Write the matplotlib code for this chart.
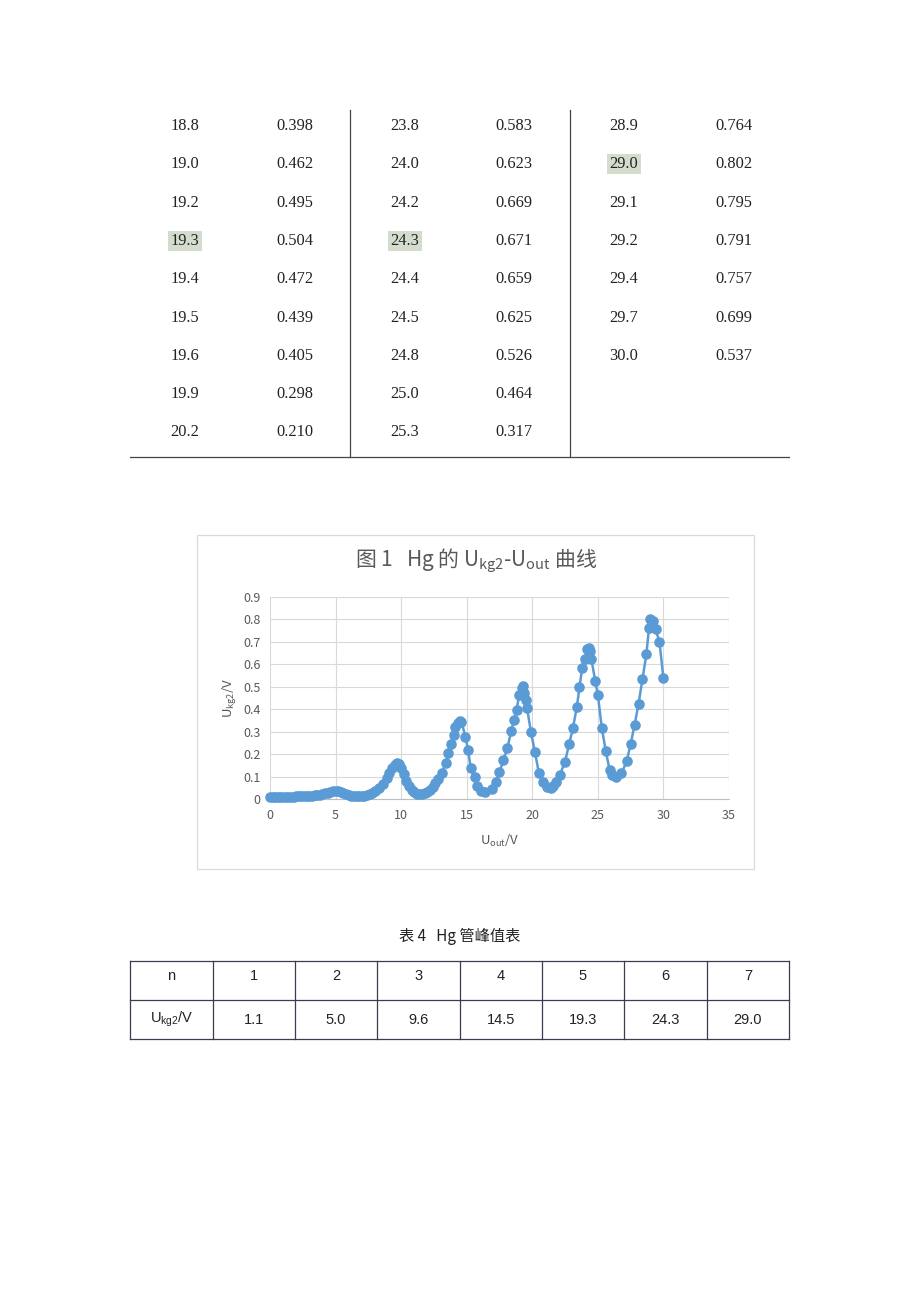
"""Rebuild the Hg Franck-Hertz page: data table, U_kg2-U_out curve and peak table."""

import matplotlib
matplotlib.use("Agg")
import matplotlib.pyplot as plt
from matplotlib.patches import Rectangle

plt.rcParams["font.family"] = ["Noto Sans CJK SC", "DejaVu Sans"]
plt.rcParams["mathtext.default"] = "regular"

# ---- top data table (three column pairs) ----
U_COL1 = ["18.8", "19.0", "19.2", "19.3", "19.4", "19.5", "19.6", "19.9", "20.2"]
V_COL1 = ["0.398", "0.462", "0.495", "0.504", "0.472", "0.439", "0.405", "0.298", "0.210"]
U_COL2 = ["23.8", "24.0", "24.2", "24.3", "24.4", "24.5", "24.8", "25.0", "25.3"]
V_COL2 = ["0.583", "0.623", "0.669", "0.671", "0.659", "0.625", "0.526", "0.464", "0.317"]
U_COL3 = ["28.9", "29.0", "29.1", "29.2", "29.4", "29.7", "30.0"]
V_COL3 = ["0.764", "0.802", "0.795", "0.791", "0.757", "0.699", "0.537"]
HIGHLIGHT = ["19.3", "24.3", "29.0"]

# ---- curve data ----
U_OUT = [0.0, 0.2, 0.4, 0.6, 0.8, 1.0, 1.2, 1.4, 1.6, 1.8, 2.0, 2.2, 2.4, 2.6, 2.8,
         3.0, 3.2, 3.4, 3.6, 3.8, 4.0, 4.2, 4.4, 4.6, 4.8, 5.0, 5.2, 5.4, 5.6, 5.8,
         6.0, 6.2, 6.4, 6.6, 6.8, 7.0, 7.2, 7.4, 7.6, 7.8, 8.0, 8.3, 8.6, 8.9, 9.1,
         9.3, 9.5, 9.6, 9.7, 9.8, 10.0, 10.2, 10.4, 10.6, 10.8, 11.0, 11.2, 11.4,
         11.6, 11.8, 12.0, 12.2, 12.4, 12.6, 12.8, 13.1, 13.4, 13.6, 13.8, 14.0,
         14.1, 14.3, 14.5, 14.6, 14.9, 15.1, 15.3, 15.6, 15.8, 16.1, 16.4, 16.9,
         17.2, 17.5, 17.8, 18.1, 18.4, 18.6, 18.8, 19.0, 19.2, 19.3, 19.4, 19.5,
         19.6, 19.9, 20.2, 20.5, 20.8, 21.1, 21.4, 21.6, 21.8, 22.1, 22.5, 22.8,
         23.1, 23.4, 23.6, 23.8, 24.0, 24.2, 24.3, 24.4, 24.5, 24.8, 25.0, 25.3,
         25.6, 25.9, 26.1, 26.4, 26.8, 27.2, 27.5, 27.8, 28.1, 28.4, 28.7, 28.9,
         29.0, 29.1, 29.2, 29.4, 29.7, 30.0]
U_KG2 = [0.010, 0.010, 0.010, 0.010, 0.010, 0.011, 0.011, 0.011, 0.011, 0.011, 0.012,
         0.012, 0.012, 0.013, 0.013, 0.014, 0.015, 0.016, 0.018, 0.020, 0.022, 0.025,
         0.028, 0.032, 0.035, 0.037, 0.036, 0.032, 0.027, 0.022, 0.018, 0.015, 0.013,
         0.012, 0.012, 0.013, 0.015, 0.018, 0.022, 0.027, 0.034, 0.048, 0.068, 0.095,
         0.118, 0.138, 0.152, 0.158, 0.160, 0.157, 0.140, 0.110, 0.080, 0.058, 0.042,
         0.030, 0.024, 0.021, 0.022, 0.026, 0.033, 0.042, 0.055, 0.070, 0.090, 0.117,
         0.160, 0.205, 0.245, 0.285, 0.320, 0.340, 0.348, 0.343, 0.278, 0.220, 0.140,
         0.098, 0.058, 0.035, 0.030, 0.045, 0.076, 0.120, 0.174, 0.226, 0.305, 0.350,
         0.398, 0.462, 0.495, 0.504, 0.472, 0.439, 0.405, 0.298, 0.210, 0.117, 0.075,
         0.052, 0.050, 0.058, 0.075, 0.107, 0.166, 0.243, 0.315, 0.412, 0.498, 0.583,
         0.623, 0.669, 0.671, 0.659, 0.625, 0.526, 0.464, 0.317, 0.215, 0.128, 0.108,
         0.098, 0.115, 0.168, 0.245, 0.330, 0.423, 0.533, 0.645, 0.764, 0.802, 0.795,
         0.791, 0.757, 0.699, 0.537]

# ---- peak table ----
PEAK_N = ["1", "2", "3", "4", "5", "6", "7"]
PEAK_U = ["1.1", "5.0", "9.6", "14.5", "19.3", "24.3", "29.0"]

W, H = 920, 1302
fig = plt.figure(figsize=(W / 100, H / 100), dpi=100)
fig.patch.set_facecolor("white")

# page overlay in pixel coordinates
page = fig.add_axes([0, 0, 1, 1])
page.set_xlim(0, W)
page.set_ylim(H, 0)
page.axis("off")

# top table
serif = ["Liberation Serif", "DejaVu Serif"]
row_y = [126 + i * 38.3 for i in range(9)]
for cx_u, cx_v, us, vs in [(185, 295, U_COL1, V_COL1),
                           (405, 514, U_COL2, V_COL2),
                           (624, 734, U_COL3, V_COL3)]:
    for i, (u, v) in enumerate(zip(us, vs)):
        y = row_y[i]
        if u in HIGHLIGHT:
            page.add_patch(Rectangle((cx_u - 17, y - 10), 34, 20,
                                     facecolor="#d3dccd", edgecolor="none", zorder=1))
        page.text(cx_u, y, u, ha="center", va="center", fontsize=11.8,
                  family=serif, color="#222222", zorder=2)
        page.text(cx_v, y, v, ha="center", va="center", fontsize=11.8,
                  family=serif, color="#222222", zorder=2)
page.plot([350, 350], [110, 457], color="#444444", lw=0.9)
page.plot([570, 570], [110, 457], color="#444444", lw=0.9)
page.plot([130, 789], [457, 457], color="#444444", lw=0.9)

# chart frame + title
page.add_patch(Rectangle((197, 535), 557, 334, facecolor="none",
                         edgecolor="#d9d9d9", lw=0.9))
page.text(476, 561, "图 1   Hg 的 $U_{kg2}$-$U_{out}$ 曲线", ha="center", va="center",
          fontsize=15, color="#595959")

# chart axes
x0, x1, y0, y1 = 270, 729, 597, 799
ax = fig.add_axes([x0 / W, 1 - y1 / H, (x1 - x0) / W, (y1 - y0) / H])
ax.plot(U_OUT, U_KG2, color="#5b9bd5", lw=1.8, marker="o", markersize=6.6,
        markerfacecolor="#5b9bd5", markeredgecolor="#5b9bd5", clip_on=False, zorder=3)
ax.set_xlim(0, 35)
ax.set_ylim(0, 0.9)
ax.set_xticks(range(0, 36, 5))
ax.set_yticks([i / 10 for i in range(10)])
ax.set_yticklabels(["0"] + [f"{i / 10:.1f}" for i in range(1, 10)])
ax.grid(True, color="#d9d9d9", lw=0.8)
ax.set_axisbelow(True)
for side in ["top", "right", "left"]:
    ax.spines[side].set_visible(False)
ax.spines["bottom"].set_color("#bfbfbf")
ax.tick_params(length=0, labelsize=9, labelcolor="#595959", pad=7)
ax.set_xlabel("$U_{out}$/V", fontsize=9.5, color="#595959", labelpad=8)
ax.set_ylabel("$U_{kg2}$/V", fontsize=9.5, color="#595959", labelpad=3)

# peak table
page.text(460, 936, "表 4   Hg 管峰值表", ha="center", va="center",
          fontsize=11, color="#222222")
sans = ["Liberation Sans", "DejaVu Sans"]
col_x = [130, 213, 295, 377, 460, 542, 624, 707, 789]
ty0, tym, ty1 = 961, 1000, 1039
edge = "#3f3a4f"
for cx in col_x:
    page.plot([cx, cx], [ty0, ty1], color=edge, lw=0.9)
for yy in (ty0, tym, ty1):
    page.plot([col_x[0], col_x[-1]], [yy, yy], color=edge, lw=0.9)
header = ["n"] + PEAK_N
values = ["$U_{kg2}$/V"] + PEAK_U
for i in range(8):
    cx = (col_x[i] + col_x[i + 1]) / 2
    page.text(cx, (ty0 + tym) / 2 - 4, header[i], ha="center", va="center",
              fontsize=10.5, family=sans, color="#222222")
    page.text(cx, (tym + ty1) / 2, values[i], ha="center", va="center",
              fontsize=10.5, family=sans, color="#222222")

fig.savefig("out.png", dpi=100, facecolor="white")
